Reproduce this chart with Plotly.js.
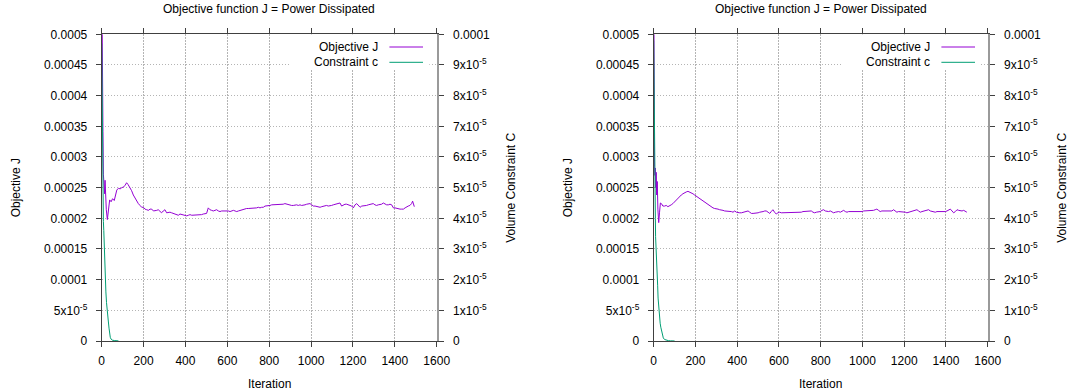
<!DOCTYPE html>
<html>
<head>
<meta charset="utf-8">
<script src="https://cdn.plot.ly/plotly-3.0.1.min.js"></script>
<style>
  html, body { margin: 0; padding: 0; background: #ffffff; }
  #chart { width: 1072px; height: 392px; }
</style>
</head>
<body>
<div id="chart"></div>
<script>
// ---- run A (left panel): objective J per iteration ----
const iterJA = [0,2,4,6,8,10,12,14,16,18,22,27,32,38,45,52,60,66,72,80,88,96,104,112,119,126,134,143,151,159,167,175,183,191,199,207,215,223,231,239,247,255,263,270,278,286,294,302,310,318,326,334,342,350,358,366,374,382,390,398,406,414,422,430,438,446,454,462,469,477,485,493,501,509,517,525,533,541,549,557,565,573,581,589,597,605,613,621,629,637,645,653,661,669,676,684,692,700,708,716,724,732,740,748,756,764,772,780,788,796,804,812,820,828,836,844,852,860,867,875,883,891,899,907,915,923,931,939,947,955,963,971,979,987,995,1003,1011,1019,1027,1035,1043,1051,1058,1066,1074,1082,1090,1098,1106,1114,1122,1130,1138,1146,1154,1162,1170,1178,1186,1194,1202,1210,1218,1226,1234,1242,1250,1258,1265,1273,1281,1289,1297,1305,1313,1321,1329,1337,1345,1353,1361,1369,1377,1385,1393,1401,1409,1417,1425,1433,1441,1449,1456,1464,1472,1480,1485,1489,1493];
const valJA = [0.00062,0.00045,0.00036,0.000342,0.000272,0.000252,0.000268,0.00024,0.000262,0.000236,0.000214,0.000198,0.000214,0.00023,0.000227,0.000232,0.000229,0.000238,0.000246,0.000249,0.000248,0.00025,0.000251,0.000254,0.000258,0.000255,0.000251,0.000245,0.000238,0.000233,0.000228,0.000224,0.000221,0.000218,0.000218,0.000215,0.000214,0.000213,0.000215,0.000215,0.000212,0.000212,0.000213,0.000214,0.000211,0.000209,0.000212,0.000214,0.000209,0.00021,0.00021,0.000209,0.000208,0.000206,0.000205,0.000205,0.000207,0.000206,0.000205,0.000204,0.000204,0.000205,0.000206,0.000205,0.000205,0.000206,0.000206,0.000205,0.000205,0.000206,0.000207,0.000207,0.000208,0.000217,0.000214,0.000213,0.000212,0.000213,0.000214,0.000212,0.000211,0.000212,0.000212,0.000213,0.000213,0.000212,0.000211,0.000212,0.000213,0.000212,0.000211,0.000212,0.000213,0.000214,0.000215,0.000216,0.000216,0.000216,0.000216,0.000217,0.000217,0.000217,0.000217,0.000218,0.000217,0.000218,0.000218,0.00022,0.00022,0.000221,0.000221,0.000222,0.000222,0.000223,0.000223,0.000222,0.000222,0.000223,0.000223,0.000224,0.000223,0.000222,0.000222,0.000221,0.000221,0.000222,0.000222,0.000221,0.000222,0.000221,0.000221,0.000222,0.000223,0.000223,0.000224,0.000222,0.00022,0.00022,0.000219,0.000218,0.000218,0.000219,0.00022,0.000221,0.000221,0.00022,0.00022,0.000221,0.000222,0.000223,0.000223,0.000224,0.000225,0.00022,0.000222,0.000223,0.000223,0.000222,0.000222,0.00022,0.000217,0.000222,0.000224,0.000221,0.000218,0.00022,0.00022,0.000221,0.000221,0.000222,0.000223,0.000223,0.000224,0.000222,0.000221,0.000222,0.000222,0.000223,0.000225,0.000223,0.000222,0.000222,0.000223,0.000222,0.000217,0.000217,0.000216,0.000216,0.000215,0.000215,0.000215,0.000217,0.000219,0.00022,0.000221,0.000224,0.000228,0.000222,0.000219];

// ---- run A (left panel): volume constraint c ----
const iterCA = [0,1,2,3,4,5,6,7,8,10,12,14,16,18,20,23,26,29,32,35,38,41,45,50,60,70,80];
const valCA = [9.7e-5,8.6e-5,7.7e-5,7.0e-5,6.2e-5,5.4e-5,4.7e-5,4.2e-5,3.9e-5,3.6e-5,3.1e-5,2.4e-5,1.9e-5,1.75e-5,1.6e-5,1.25e-5,9.5e-6,7.8e-6,6.2e-6,4.2e-6,2.2e-6,1.2e-6,6e-7,3e-7,1.5e-7,8e-8,4e-8];

// ---- run B (right panel): objective J per iteration ----
const iterJB = [0,1,2,3,4,6,8,10,12,14,17,20,24,28,32,37,44,52,60,68,76,84,92,100,108,116,124,132,140,148,156,164,172,180,188,196,204,212,220,228,236,244,252,260,268,276,284,292,300,308,316,324,332,340,348,356,364,372,380,388,396,404,412,420,428,436,444,452,460,468,476,484,492,500,508,516,524,532,539,548,556,563,571,579,587,595,603,611,619,627,635,643,651,659,667,675,683,691,699,707,715,723,731,739,747,755,763,771,779,790,798,806,814,822,830,838,846,854,862,870,878,886,894,902,910,918,926,934,942,950,958,966,974,982,990,998,1006,1014,1021,1029,1037,1045,1053,1061,1069,1077,1085,1093,1101,1109,1117,1125,1133,1141,1149,1157,1165,1173,1181,1189,1197,1205,1213,1221,1229,1237,1245,1253,1261,1269,1277,1285,1293,1301,1309,1317,1325,1333,1341,1349,1357,1365,1373,1381,1389,1397,1405,1413,1421,1429,1437,1445,1453,1461,1469,1477,1485,1493,1500];
const valJB = [0.00062,0.00047,0.000385,0.00033,0.000285,0.00027,0.000282,0.00025,0.000275,0.000238,0.00026,0.000215,0.000193,0.00021,0.000225,0.000224,0.00022,0.00022,0.000221,0.000219,0.00022,0.000222,0.000224,0.000227,0.00023,0.000233,0.000236,0.000238,0.00024,0.000242,0.000243,0.000244,0.000243,0.000242,0.00024,0.000238,0.000236,0.000234,0.000232,0.00023,0.000228,0.000226,0.000224,0.000222,0.00022,0.000219,0.000217,0.000216,0.000216,0.000215,0.000214,0.000214,0.000213,0.000212,0.000212,0.000211,0.000211,0.000211,0.00021,0.000212,0.00021,0.000209,0.000209,0.000209,0.00021,0.00021,0.000211,0.000212,0.00021,0.000208,0.000208,0.000208,0.000209,0.000209,0.00021,0.00021,0.000211,0.000212,0.000212,0.00021,0.000208,0.000211,0.000214,0.00021,0.000207,0.000209,0.00021,0.000209,0.000209,0.000209,0.00021,0.00021,0.000209,0.00021,0.00021,0.000209,0.00021,0.00021,0.00021,0.00021,0.000211,0.000211,0.000211,0.000211,0.000212,0.000212,0.00021,0.000209,0.00021,0.00021,0.000211,0.000213,0.000214,0.000212,0.000211,0.000211,0.000212,0.000211,0.000209,0.00021,0.000211,0.000211,0.00021,0.000211,0.000213,0.000211,0.00021,0.000211,0.000211,0.000211,0.000211,0.00021,0.00021,0.000211,0.000211,0.000211,0.000212,0.000212,0.000212,0.000212,0.000212,0.000212,0.000213,0.000214,0.000215,0.000213,0.000211,0.000212,0.000212,0.000212,0.000212,0.000212,0.000211,0.000212,0.000214,0.000212,0.00021,0.000211,0.000211,0.000211,0.000211,0.00021,0.000209,0.00021,0.000211,0.000211,0.000212,0.000213,0.000214,0.000212,0.00021,0.000211,0.000212,0.000212,0.000213,0.000214,0.000212,0.000211,0.00021,0.00021,0.000211,0.000211,0.00021,0.00021,0.00021,0.000211,0.000212,0.000213,0.000215,0.000212,0.000209,0.000211,0.000214,0.000213,0.000212,0.000212,0.000213,0.000211,0.00021];

// ---- run B (right panel): volume constraint c ----
const iterCB = [0,1,2,3,4,5,6,7,8,9,11,13,15,17,19,21,23,25,28,31,34,38,42,46,52,60,70,80,90,100];
const valCB = [9.8e-5,8.5e-5,7.4e-5,6.6e-5,6.0e-5,5.7e-5,5.3e-5,4.6e-5,4.0e-5,3.4e-5,2.9e-5,2.6e-5,2.4e-5,2.2e-5,1.8e-5,1.4e-5,1.15e-5,9.2e-6,7.4e-6,5.8e-6,4.5e-6,3.0e-6,1.8e-6,1.0e-6,5e-7,2.5e-7,1.2e-7,6e-8,3e-8,2e-8];

// ---- axis ticks and labels ----
const xTickVals = [0,200,400,600,800,1000,1200,1400,1600];
const jTickVals = [0,0.00005,0.0001,0.00015,0.0002,0.00025,0.0003,0.00035,0.0004,0.00045,0.0005];
const jTickText = ['0','5x10<sup>-5</sup>','0.0001','0.00015','0.0002','0.00025','0.0003','0.00035','0.0004','0.00045','0.0005'];
const cTickVals = [0,1e-5,2e-5,3e-5,4e-5,5e-5,6e-5,7e-5,8e-5,9e-5,1e-4];
const cTickText = ['0','1x10<sup>-5</sup>','2x10<sup>-5</sup>','3x10<sup>-5</sup>','4x10<sup>-5</sup>','5x10<sup>-5</sup>','6x10<sup>-5</sup>','7x10<sup>-5</sup>','8x10<sup>-5</sup>','9x10<sup>-5</sup>','0.0001'];

const titleText = 'Objective function J = Power Dissipated';
const seriesNames = ['Objective J', 'Constraint c'];
const xTitle = 'Iteration';
const yTitleLeft = 'Objective J';
const yTitleRight = 'Volume Constraint C';

// ---- styling ----
const W = 1072, H = 392;
const FONT = 'Liberation Sans, Arial, sans-serif';
const colJ = '#9400d3';
const colC = '#009e73';
const axisCol = '#404040';
const gridCol = '#b4b4b4';
const gridDash = '1.5px,1.5px';

// pixel helpers for paper coordinates
const px = v => v / W;
const py = v => 1 - v / H;

// plot frames in pixels
const panels = [
  { x0: 101.7, x1: 436.7 },
  { x0: 653.7, x1: 987.7 }
];
const yTop = 34.3, yBot = 341;

function xAxisCfg(p) {
  return {
    domain: [px(p.x0), px(p.x1)],
    range: [0, 1600],
    tickmode: 'array', tickvals: xTickVals,
    ticks: 'outside', ticklen: 5, tickcolor: axisCol, tickwidth: 1,
    showline: true, linecolor: axisCol, linewidth: 1, mirror: 'ticks',
    showgrid: true, gridcolor: gridCol, griddash: gridDash, gridwidth: 1,
    zeroline: false, automargin: false, fixedrange: true,
    tickfont: { family: FONT, size: 12, color: '#000' },
    ticklabelstandoff: 4
  };
}
function yLeftCfg(anchor) {
  return {
    domain: [py(yBot), py(yTop)],
    anchor: anchor,
    range: [0, 0.0005],
    tickmode: 'array', tickvals: jTickVals, ticktext: jTickText,
    ticks: 'outside', ticklen: 5, tickcolor: axisCol, tickwidth: 1,
    showline: true, linecolor: axisCol, linewidth: 1, mirror: false,
    showgrid: true, gridcolor: gridCol, griddash: gridDash, gridwidth: 1,
    zeroline: false, automargin: false, fixedrange: true,
    tickfont: { family: FONT, size: 12, color: '#000' },
    ticklabelstandoff: 6
  };
}
function yRightCfg(anchor, over) {
  return {
    anchor: anchor, overlaying: over, side: 'right',
    range: [0, 0.0001],
    tickmode: 'array', tickvals: cTickVals, ticktext: cTickText,
    ticks: 'outside', ticklen: 5, tickcolor: axisCol, tickwidth: 1,
    showline: true, linecolor: '#9a9a9a', linewidth: 2,
    showgrid: false, zeroline: false, automargin: false, fixedrange: true,
    tickfont: { family: FONT, size: 12, color: '#000' },
    ticklabelstandoff: 7
  };
}

const line = c => ({ color: c, width: 1 });
const traces = [
  { x: iterJA, y: valJA, xaxis: 'x', yaxis: 'y', mode: 'lines', line: line(colJ), name: seriesNames[0] },
  { x: iterCA, y: valCA, xaxis: 'x', yaxis: 'y2', mode: 'lines', line: line(colC), name: seriesNames[1] },
  { x: iterJB, y: valJB, xaxis: 'x2', yaxis: 'y3', mode: 'lines', line: line(colJ), name: seriesNames[0] },
  { x: iterCB, y: valCB, xaxis: 'x2', yaxis: 'y4', mode: 'lines', line: line(colC), name: seriesNames[1] }
];

const annotations = [];
const shapes = [];
const txt = (text, x, y, extra) => Object.assign({
  text: text, xref: 'paper', yref: 'paper', x: x, y: y,
  showarrow: false, font: { family: FONT, size: 12, color: '#000' },
  xanchor: 'center', yanchor: 'middle'
}, extra || {});

panels.forEach((p, i) => {
  const cx = (p.x0 + p.x1) / 2;
  const xr = i === 0 ? 'x' : 'x2';
  const yr = i === 0 ? 'y' : 'y3';
  annotations.push(txt(titleText, px(cx), py(8.7)));
  annotations.push(txt(xTitle, px(cx), py(384.3)));
  annotations.push(txt(yTitleLeft, px(p.x0 - 86), py((yTop + yBot) / 2), { textangle: -90 }));
  annotations.push(txt(yTitleRight, px(p.x1 + 73.5), py((yTop + yBot) / 2), { textangle: -90 }));

  // opaque key area in the upper right corner
  shapes.push({
    type: 'rect', xref: xr, yref: yr, layer: 'between',
    x0: 904, x1: 1565, y0: 0.000442, y1: 0.0005,
    fillcolor: '#ffffff', line: { width: 0 }
  });
  // key entries: label on the left, line sample on the right
  const keyRows = [{ y: 47, c: colJ }, { y: 62.3, c: colC }];
  keyRows.forEach((r, k) => {
    annotations.push(txt(seriesNames[k], px(p.x0 + 278.5), py(r.y), { xanchor: 'right' }));
    shapes.push({
      type: 'line', xref: 'paper', yref: 'paper', layer: 'above',
      x0: px(p.x0 + 287.7), x1: px(p.x0 + 321.3), y0: py(r.y), y1: py(r.y),
      line: { color: r.c, width: 1 }
    });
  });
});

const layout = {
  width: W, height: H,
  margin: { l: 0, r: 0, t: 0, b: 0, pad: 0 },
  paper_bgcolor: '#ffffff', plot_bgcolor: '#ffffff',
  showlegend: false,
  font: { family: FONT, size: 12, color: '#000' },
  xaxis: Object.assign(xAxisCfg(panels[0]), { anchor: 'y' }),
  xaxis2: Object.assign(xAxisCfg(panels[1]), { anchor: 'y3' }),
  yaxis: yLeftCfg('x'),
  yaxis2: yRightCfg('x', 'y'),
  yaxis3: yLeftCfg('x2'),
  yaxis4: yRightCfg('x2', 'y3'),
  annotations: annotations,
  shapes: shapes
};

Plotly.newPlot('chart', traces, layout, { staticPlot: true, displayModeBar: false });
</script>
</body>
</html>
